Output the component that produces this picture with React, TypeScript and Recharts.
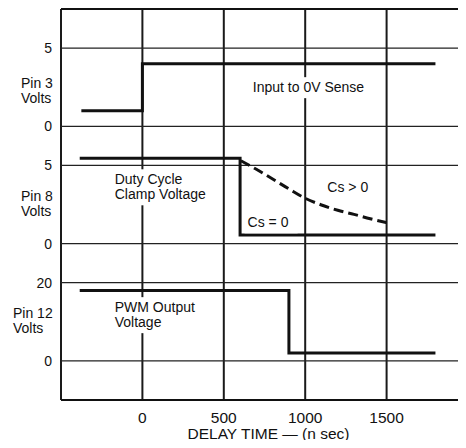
import React from 'react';
import { LineChart, Line, XAxis, YAxis, ReferenceLine, ReferenceDot, CartesianGrid } from 'recharts';

// ---- data ----
const timeTicks = [-500, 0, 500, 1000, 1500, 2000];
const timeTickLabels = ['', '0', '500', '1000', '1500', ''];

const pin3Input = [
  { t: -375, v: 1 },
  { t: 0, v: 4 },
  { t: 1800, v: 4 },
];
const pin8ClampCs0 = [
  { t: -385, v: 5.45 },
  { t: 600, v: 0.55 },
  { t: 1800, v: 0.55 },
];
const pin8ClampCsPos = [
  { t: 605, v: 5.3 },
  { t: 700, v: 4.75 },
  { t: 800, v: 4.13 },
  { t: 900, v: 3.5 },
  { t: 1000, v: 2.9 },
  { t: 1100, v: 2.47 },
  { t: 1200, v: 2.13 },
  { t: 1300, v: 1.87 },
  { t: 1400, v: 1.59 },
  { t: 1500, v: 1.34 },
];
const pin12Pwm = [
  { t: -385, v: 18 },
  { t: 900, v: 2 },
  { t: 1800, v: 2 },
];

const pin3Domain = [-17.5, 7.5];
const pin8Domain = [-10, 15];
const pin12Domain = [-10, 90];

const pin3Ticks = [0, 5];
const pin8Ticks = [0, 5];
const pin12Ticks = [0, 20];

const axisTitles = [
  { axis: 'p3', v: 2.25, lines: ['Pin 3', 'Volts'] },
  { axis: 'p8', v: 2.5, lines: ['Pin 8', 'Volts'] },
  { axis: 'p12', v: 10, lines: ['Pin 12', 'Volts'] },
];

const annotations = [
  { axis: 'p3', t: 1020, v: 2.47, lines: ['Input to 0V Sense'], anchor: 'middle' },
  { axis: 'p8', t: -170, v: 3.6, lines: ['Duty Cycle', 'Clamp Voltage'], anchor: 'start' },
  { axis: 'p8', t: 646, v: 1.33, lines: ['Cs = 0'], anchor: 'start' },
  { axis: 'p8', t: 1136, v: 3.56, lines: ['Cs > 0'], anchor: 'start' },
  { axis: 'p12', t: -170, v: 11.7, lines: ['PWM Output', 'Voltage'], anchor: 'start' },
];

const xTitle = 'DELAY TIME — (n sec)';

// ---- styles ----
const INK = '#111';
const FONT = 14;
const LINE_H = 15;
const titleOffsets: Record<string, number> = { p3: 40, p8: 40, p12: 48 };

function TextBlock({ cx, cy, lines, anchor, bg }: any) {
  if (cx == null || cy == null || isNaN(cx) || isNaN(cy)) return null;
  const n = lines.length;
  const top = cy - (n * LINE_H) / 2;
  const maxLen = Math.max(...lines.map((l: string) => l.length));
  const w = maxLen * FONT * 0.56 + 6;
  const h = n * LINE_H + 6;
  let rx = cx - 3;
  if (anchor === 'middle') rx = cx - w / 2;
  return (
    <g>
      {bg && <rect x={rx} y={top - 3} width={w} height={h} fill="#fff" />}
      {lines.map((l: string, i: number) => (
        <text key={i} x={cx} y={top + i * LINE_H + 11.5} textAnchor={anchor} fontSize={FONT} fill={INK}>
          {l}
        </text>
      ))}
    </g>
  );
}

export default function App() {
  const gridStroke = { stroke: '#222', strokeWidth: 1.3 };
  const borderStroke = { stroke: '#111', strokeWidth: 1.9 };
  return (
    <div
      style={{
        margin: -8,
        width: 466,
        height: 448,
        overflow: 'hidden',
        background: '#fff',
        fontFamily: '"Liberation Sans", Arial, sans-serif',
      }}
    >
      <LineChart width={480} height={448} margin={{ top: 9, right: 12, bottom: 8, left: 61 }}>
        <XAxis
          type="number"
          dataKey="t"
          domain={[-500, 2000]}
          ticks={timeTicks}
          tickFormatter={(v: number) => timeTickLabels[timeTicks.indexOf(v)] ?? ''}
          allowDataOverflow
          axisLine={false}
          tickLine={false}
          tickMargin={6}
          height={40}
          tick={{ fill: INK, fontSize: 15.5 }}
          label={{ value: xTitle, position: 'insideBottom', offset: 1, dx: 4, fill: INK, fontSize: 15.5 }}
        />
        <YAxis
          yAxisId="p3"
          type="number"
          domain={pin3Domain}
          allowDataOverflow
          width={0}
          tick={false}
          tickLine={false}
          axisLine={{ stroke: '#111', strokeWidth: 1.9 }}
        />
        <YAxis yAxisId="p8" type="number" domain={pin8Domain} hide allowDataOverflow />
        <YAxis yAxisId="p12" type="number" domain={pin12Domain} hide allowDataOverflow />

        <CartesianGrid yAxisId="p3" vertical horizontal={false} stroke="#1a1a1a" strokeWidth={2} />

        <ReferenceLine y={pin3Domain[1]} yAxisId="p3" {...borderStroke} />
        <ReferenceLine y={pin3Domain[0]} yAxisId="p3" {...borderStroke} />
        {pin3Ticks.map((v) => (
          <ReferenceLine
            key={'p3' + v}
            y={v}
            yAxisId="p3"
            {...gridStroke}
            label={{ value: String(v), position: 'left', offset: 9, fill: INK, fontSize: FONT }}
          />
        ))}
        {pin8Ticks.map((v) => (
          <ReferenceLine
            key={'p8' + v}
            y={v}
            yAxisId="p8"
            {...gridStroke}
            label={{ value: String(v), position: 'left', offset: 9, fill: INK, fontSize: FONT }}
          />
        ))}
        {pin12Ticks.map((v) => (
          <ReferenceLine
            key={'p12' + v}
            y={v}
            yAxisId="p12"
            {...gridStroke}
            label={{ value: String(v), position: 'left', offset: 9, fill: INK, fontSize: FONT }}
          />
        ))}

        {axisTitles.map((a) => (
          <ReferenceLine
            key={'title' + a.axis}
            y={a.v}
            yAxisId={a.axis}
            stroke="none"
            label={{
              position: 'left',
              content: (p: any) => {
                const vb = p.viewBox || {};
                return (
                  <TextBlock
                    cx={vb.x - titleOffsets[a.axis]}
                    cy={vb.y + (vb.height || 0) / 2}
                    lines={a.lines}
                    anchor="start"
                    bg={false}
                  />
                );
              },
            }}
          />
        ))}
        {annotations.map((a, i) => (
          <ReferenceDot
            key={'ann' + i}
            x={a.t}
            y={a.v}
            yAxisId={a.axis}
            r={0}
            ifOverflow="visible"
            zIndex={700}
            shape={(p: any) => <TextBlock cx={p.cx} cy={p.cy} lines={a.lines} anchor={a.anchor} bg />}
          />
        ))}

        <Line yAxisId="p3" data={pin3Input} dataKey="v" type="stepAfter" stroke={INK} strokeWidth={3} dot={false} isAnimationActive={false} />
        <Line yAxisId="p8" data={pin8ClampCs0} dataKey="v" type="stepAfter" stroke={INK} strokeWidth={3} dot={false} isAnimationActive={false} />
        <Line
          yAxisId="p8"
          data={pin8ClampCsPos}
          dataKey="v"
          type="monotone"
          stroke={INK}
          strokeWidth={3}
          strokeDasharray="10 5"
          dot={false}
          isAnimationActive={false}
        />
        <Line yAxisId="p12" data={pin12Pwm} dataKey="v" type="stepAfter" stroke={INK} strokeWidth={3} dot={false} isAnimationActive={false} />
      </LineChart>
    </div>
  );
}
